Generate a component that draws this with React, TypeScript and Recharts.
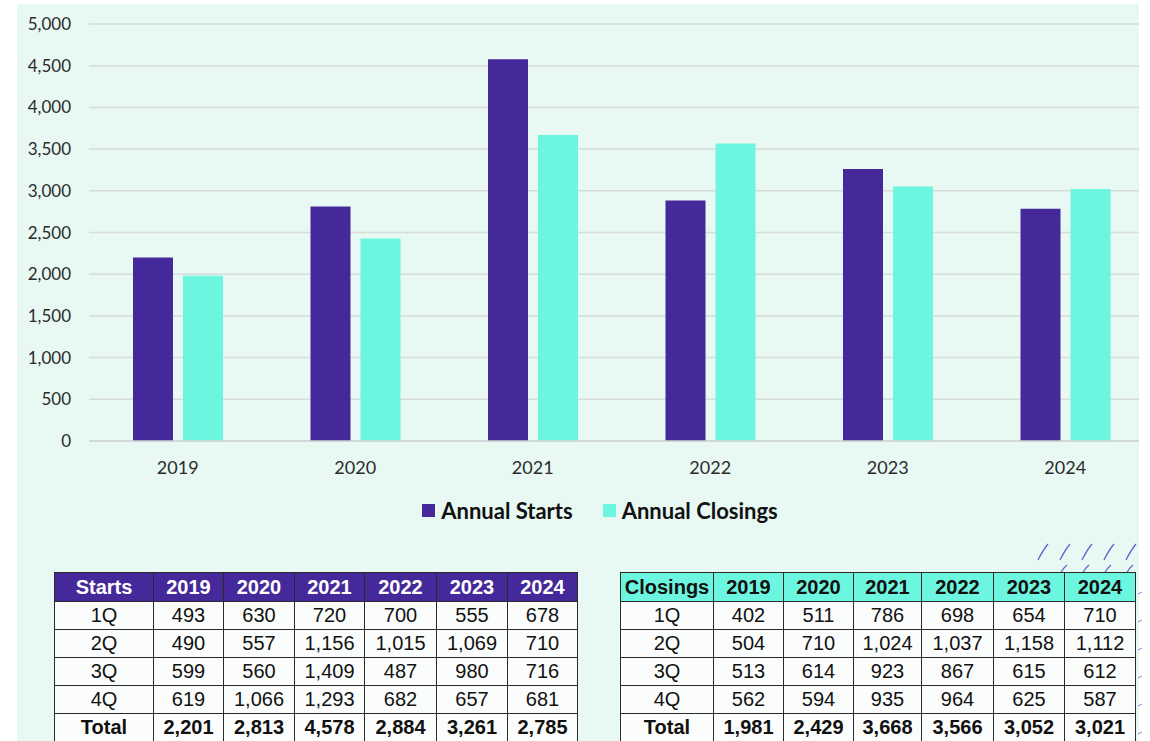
import React from 'react';
import { BarChart, Bar, XAxis, YAxis, CartesianGrid, Legend } from 'recharts';

const years = ['2019', '2020', '2021', '2022', '2023', '2024'];
const annualStarts = [2201, 2813, 4578, 2884, 3261, 2785];
const annualClosings = [1981, 2429, 3668, 3566, 3052, 3021];
const yTicks = [0, 500, 1000, 1500, 2000, 2500, 3000, 3500, 4000, 4500, 5000];

const quarterLabels = ['1Q', '2Q', '3Q', '4Q'];
const startsQ1 = [493, 630, 720, 700, 555, 678];
const startsQ2 = [490, 557, 1156, 1015, 1069, 710];
const startsQ3 = [599, 560, 1409, 487, 980, 716];
const startsQ4 = [619, 1066, 1293, 682, 657, 681];
const closingsQ1 = [402, 511, 786, 698, 654, 710];
const closingsQ2 = [504, 710, 1024, 1037, 1158, 1112];
const closingsQ3 = [513, 614, 923, 867, 615, 612];
const closingsQ4 = [562, 594, 935, 964, 625, 587];

const STARTS_COLOR = '#45299a';
const CLOSINGS_COLOR = '#6cf6df';
const BG = '#e8f8f3';
const CHART_FONT = 'Lato, "Open Sans", sans-serif';
const TABLE_FONT = '"Liberation Sans", Arial, sans-serif';

const data = years.map((y, i) => ({ year: y, starts: annualStarts[i], closings: annualClosings[i] }));

const fmt = (v: number) => v.toLocaleString('en-US');

const LegendContent = () => (
  <div style={{ display: 'flex', justifyContent: 'center', alignItems: 'center', fontFamily: CHART_FONT, fontWeight: 700, fontSize: 22, color: '#111', paddingLeft: 50 }}>
    <span style={{ display: 'inline-block', width: 13, height: 13, background: STARTS_COLOR, marginRight: 6 }} />
    <span style={{ marginRight: 30 }}>Annual Starts</span>
    <span style={{ display: 'inline-block', width: 13, height: 13, background: CLOSINGS_COLOR, marginRight: 6 }} />
    <span>Annual Closings</span>
  </div>
);

type TableProps = {
  title: string;
  rows: number[][];
  totals: number[];
  left: number;
  firstColWidth: number;
  colWidths: number[];
  headerBg: string;
  headerColor: string;
};

const DataTable = ({ title, rows, totals, left, firstColWidth, colWidths, headerBg, headerColor }: TableProps) => {
  const cell: React.CSSProperties = { border: '1px solid #2a2a2a', padding: 0, textAlign: 'center', height: 27, lineHeight: '27px', whiteSpace: 'nowrap', overflow: 'hidden' };
  return (
    <table style={{ position: 'absolute', left, top: 572, borderCollapse: 'collapse', fontFamily: TABLE_FONT, fontSize: 20, color: '#111', background: '#fbfdfc', tableLayout: 'fixed' }}>
      <colgroup>
        <col style={{ width: firstColWidth }} />
        {colWidths.map((w, i) => <col key={i} style={{ width: w }} />)}
      </colgroup>
      <thead>
        <tr>
          <th style={{ ...cell, background: headerBg, color: headerColor, height: 28 }}>{title}</th>
          {years.map((y) => (
            <th key={y} style={{ ...cell, background: headerBg, color: headerColor, height: 28 }}>{y}</th>
          ))}
        </tr>
      </thead>
      <tbody>
        {rows.map((r, ri) => (
          <tr key={ri}>
            <td style={cell}>{quarterLabels[ri]}</td>
            {r.map((v, ci) => <td key={ci} style={cell}>{fmt(v)}</td>)}
          </tr>
        ))}
        <tr>
          <td style={{ ...cell, fontWeight: 700 }}>Total</td>
          {totals.map((v, ci) => <td key={ci} style={{ ...cell, fontWeight: 700 }}>{fmt(v)}</td>)}
        </tr>
      </tbody>
    </table>
  );
};

export default function App() {
  return (
    <div style={{ position: 'absolute', left: 0, top: 0, width: 1150, height: 741, background: '#ffffff', overflow: 'hidden' }}>
      <div style={{ position: 'absolute', left: 17, top: 4, width: 1122, height: 737, background: BG }} />
      <div style={{ position: 'absolute', left: 0, top: 0, width: 1139, height: 545, overflow: 'hidden' }}>
        <BarChart width={1160} height={541} data={data} margin={{ top: 24, right: 6, left: 19, bottom: 60 }} barGap={10} barSize={40}>
          <CartesianGrid vertical={false} stroke="#d6dcd9" strokeWidth={1.5} />
          <XAxis dataKey="year" height={40} tickLine={false} tickSize={0} tickMargin={20} axisLine={{ stroke: '#cfd4d2', strokeWidth: 1.5 }} tick={{ fill: '#2b2b2b', fontSize: 18, fontFamily: CHART_FONT }} />
          <YAxis width={70} domain={[0, 5000]} ticks={yTicks} interval={0} tickLine={false} tickSize={0} tickMargin={18} axisLine={false} tickFormatter={(v: number) => fmt(v)} tick={{ fill: '#2b2b2b', fontSize: 17, fontFamily: CHART_FONT }} />
          <Legend verticalAlign="middle" align="center" layout="horizontal" wrapperStyle={{ top: 497, left: 0, width: 1150 }} content={<LegendContent />} />
          <Bar dataKey="starts" name="Annual Starts" fill={STARTS_COLOR} isAnimationActive={false} />
          <Bar dataKey="closings" name="Annual Closings" fill={CLOSINGS_COLOR} isAnimationActive={false} />
        </BarChart>
      </div>
      <svg style={{ position: 'absolute', left: 1030, top: 536 }} width={120} height={205}>
        {[0, 1, 2, 3, 4].map((i) => (
          <path key={'a' + i} d={`M ${8 + i * 22} 24 Q ${13 + i * 22} 14 ${18 + i * 22} 8`} fill="none" stroke="#6a5fd0" strokeWidth={1.3} />
        ))}
        {[0, 1, 2, 3].map((i) => (
          <path key={'b' + i} d={`M ${30 + i * 22} 38 Q ${33 + i * 22} 32 ${37 + i * 22} 29`} fill="none" stroke="#6a5fd0" strokeWidth={1.3} />
        ))}
        {[0, 1, 2, 3, 4, 5].map((i) => (
          <line key={'c' + i} x1={108} y1={58 + i * 28} x2={112} y2={56 + i * 28} stroke="#8a80d8" strokeWidth={1} />
        ))}
      </svg>
      <DataTable
        title="Starts"
        rows={[startsQ1, startsQ2, startsQ3, startsQ4]}
        totals={annualStarts}
        left={54}
        firstColWidth={99}
        colWidths={[70, 71, 70, 72, 71, 70]}
        headerBg={STARTS_COLOR}
        headerColor="#ffffff"
      />
      <DataTable
        title="Closings"
        rows={[closingsQ1, closingsQ2, closingsQ3, closingsQ4]}
        totals={annualClosings}
        left={620}
        firstColWidth={93}
        colWidths={[70, 70, 68, 72, 71, 71]}
        headerBg={CLOSINGS_COLOR}
        headerColor="#111111"
      />
    </div>
  );
}
